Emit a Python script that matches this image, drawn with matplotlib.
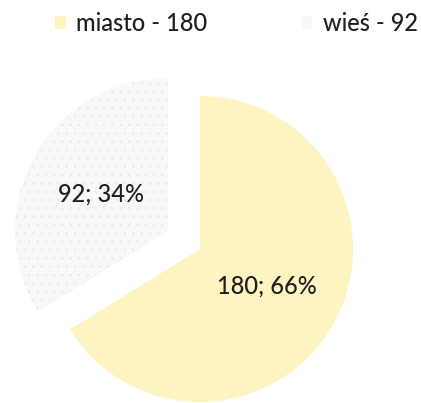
import matplotlib.pyplot as plt

# -------- Data ----------
labels = ["miasto", "wieś"]
values = [180, 92]
colors = ["#fdf4c2", "#f7f8f8"]
explode = [0.0, 0.24]

plt.rcParams["font.family"] = ["Lato", "DejaVu Sans"]
plt.rcParams["hatch.linewidth"] = 0.4

W, H, DPI = 421, 403, 100
fig = plt.figure(figsize=(W / DPI, H / DPI), dpi=DPI)
ax = fig.add_axes([0, 0, 1, 1])

total = sum(values)


def fmt(pct):
    n = int(round(pct * total / 100.0))
    return f"{n}; {pct:.0f}%"


wedges, texts, autotexts = ax.pie(
    values,
    colors=colors,
    explode=explode,
    startangle=90,
    counterclock=False,
    autopct=fmt,
    pctdistance=0.5,
    textprops={"fontsize": 17, "color": "#1e1e1e", "fontweight": "medium"},
    wedgeprops={"linewidth": 0},
)
# speckled look of the "wieś" slice
wedges[1].set_hatch("..")
wedges[1].set_edgecolor("#e6e8e8")
wedges[1].set_linewidth(0)

# pie centre at (200, 249) px, radius ~153 px
scale = 153.0
cx, cy = 200.0, 249.0
ax.set_xlim(-cx / scale, (W - cx) / scale)
ax.set_ylim(-(H - cy) / scale, cy / scale)
ax.set_aspect("auto")
ax.axis("off")

handles = [plt.Rectangle((0, 0), 1, 1, facecolor=c, edgecolor="none") for c in colors]
leg_labels = [f"{l} - {v}" for l, v in zip(labels, values)]
leg = fig.legend(
    handles, leg_labels,
    loc="upper left", bbox_to_anchor=(55 / W, 1 - 12 / H),
    ncol=2, frameon=False, fontsize=17,
    handlelength=0.45, handleheight=0.45, handletextpad=0.45,
    columnspacing=4.0, borderaxespad=0, borderpad=0,
)
for t in leg.get_texts():
    t.set_color("#1e1e1e")
    t.set_fontweight("medium")

fig.savefig("out.png", dpi=DPI)
